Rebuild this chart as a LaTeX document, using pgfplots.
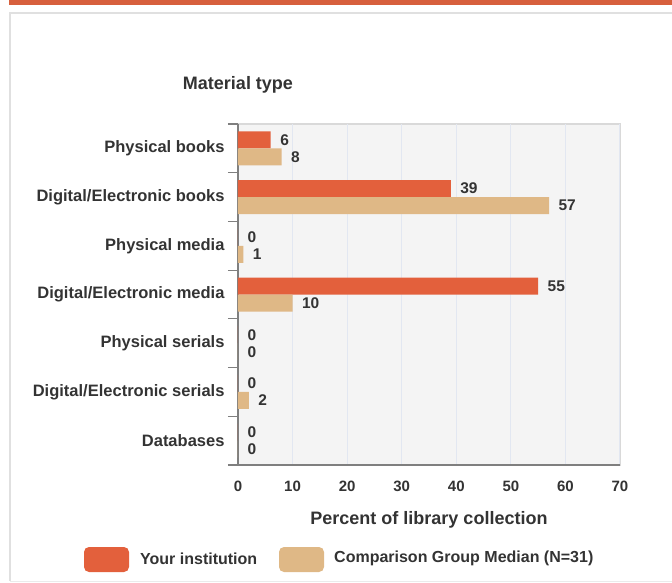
\documentclass[border=0pt]{standalone}
\usepackage{pgfplots}
\pgfplotsset{compat=1.18}
\usepackage{fontspec}
\setmainfont{Liberation Sans}
\definecolor{instc}{HTML}{E3603C}
\definecolor{compc}{HTML}{DFB886}
\definecolor{txt}{HTML}{333333}
\definecolor{topbar}{HTML}{D7603D}
\definecolor{plotbg}{HTML}{F4F4F4}
\definecolor{gridc}{HTML}{E2E7F1}
\definecolor{axc}{HTML}{7F7F7F}
\begin{document}
\begin{tikzpicture}[x=1pt,y=1pt]
\useasboundingbox (0,0) rectangle (672,582);
\fill[topbar] (9,577) rectangle (672,582);
\draw[color=black!12,line width=1.2pt] (10,1) -- (10,569) -- (680,569);
\draw[color=black!8,line width=1pt] (10,1) -- (680,1);
\node[font=\bfseries\fontsize{18}{20}\selectfont,text=txt] at (238,497) {Material type};
\begin{axis}[
  at={(238pt,117pt)}, anchor=south west,
  scale only axis, width=382pt, height=341pt,
  xmin=0, xmax=70, ymin=-0.5, ymax=6.5,
  xbar, bar width=17pt,
  axis background/.style={fill=plotbg, draw=black!15, line width=1.5pt},
  axis x line*=bottom, axis y line*=left,
  axis line style={draw=axc, line width=1.2pt, -},
  xtick={0,10,...,70},
  xmajorgrids, grid style={draw=gridc, line width=1pt},
  ytick={0,...,6},
  yticklabels={Databases,Digital/Electronic serials,Physical serials,Digital/Electronic media,Physical media,Digital/Electronic books,Physical books},
  minor ytick={-0.5,0.5,...,6.5},
  ytick pos=left, xtick pos=bottom,
  major tick length=0pt,
  minor tick length=10pt,
  tick align=outside,
  minor tick style={draw=axc, line width=1.2pt},
  yticklabel style={font=\bfseries\fontsize{16.5}{18}\selectfont, text=txt, xshift=-10pt},
  xticklabel style={font=\bfseries\fontsize{15}{17}\selectfont, text=txt, yshift=-12pt},
  xlabel={Percent of library collection},
  xlabel style={font=\bfseries\fontsize{18}{20}\selectfont, text=txt, yshift=-13pt},
  /pgf/number format/assume math mode=true,
  nodes near coords,
  nodes near coords style={font=\bfseries\fontsize{15.5}{17}\selectfont, text=txt, anchor=west, xshift=6pt},
  clip=false,
]
\addplot[fill=instc, draw=none, bar shift=8.5pt] coordinates {
(6,6) (39,5) (0,4) (55,3) (0,2) (0,1) (0,0)};
\addplot[fill=compc, draw=none, bar shift=-8.5pt] coordinates {
(8,6) (57,5) (1,4) (10,3) (0,2) (2,1) (0,0)};
\end{axis}
\fill[instc, rounded corners=5pt] (84,10) rectangle (129,35);
\node[anchor=west, font=\bfseries\fontsize{16}{18}\selectfont, text=txt, inner sep=0pt] at (140,23.5) {Your institution};
\fill[compc, rounded corners=5pt] (279,10) rectangle (324,35);
\node[anchor=west, font=\bfseries\fontsize{16}{18}\selectfont, text=txt, inner sep=0pt] at (334,23.5) {Comparison Group Median (N=31)};
\end{tikzpicture}
\end{document}
